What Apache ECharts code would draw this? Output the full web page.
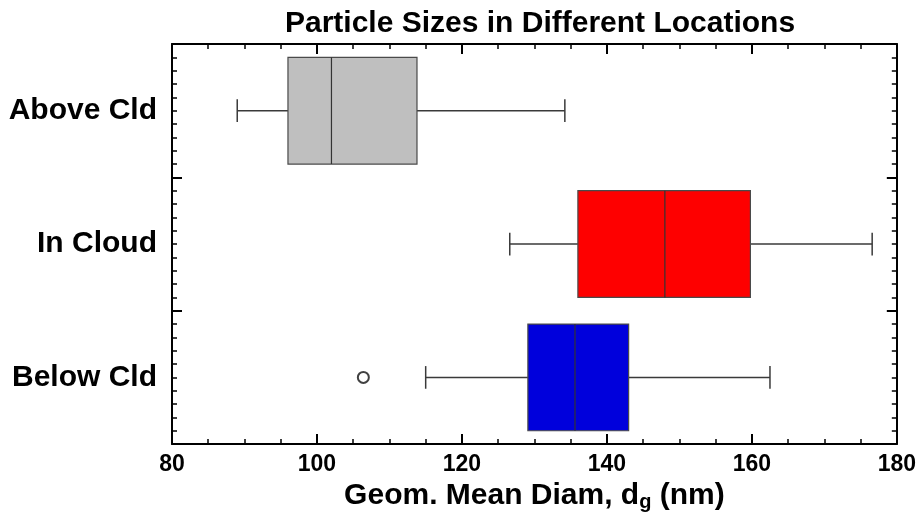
<!DOCTYPE html>
<html>
<head>
<meta charset="utf-8">
<title>Particle Sizes in Different Locations</title>
<script src="https://cdn.jsdelivr.net/npm/echarts@6/dist/echarts.min.js"></script>
<style>
  html, body { margin: 0; padding: 0; background: #fff; }
  #chart { width: 919px; height: 517px; }
</style>
</head>
<body>
<div id="chart"></div>
<script>
// locations, top to bottom
const categories = ['Above Cld', 'In Cloud', 'Below Cld']
// five-number summaries: [min, Q1, median, Q3, max]
const boxStats = [
  [89.0, 96.0, 102.0, 113.8, 134.2],
  [126.6, 136.0, 148.0, 159.8, 176.6],
  [115.0, 129.1, 135.6, 143.0, 162.5]
]
// outliers: [value, location]
const outliers = [[106.4, 'Below Cld']]
const xTicks = [80, 100, 120, 140, 160, 180]

const FILLS = ['#bfbfbf', '#fe0000', '#0000dc']
const FONT = '"Liberation Sans", Arial, Helvetica, sans-serif'
const INK = '#000'
const MAJOR = 10
const MINOR = 5

const chart = echarts.init(document.getElementById('chart'), null, { renderer: 'canvas' })

const boxData = boxStats.map((s, i) => [i].concat(s))

function renderBox(params, api) {
  const cat = api.value(0)
  const pMin = api.coord([api.value(1), cat])
  const pQ1 = api.coord([api.value(2), cat])
  const pMed = api.coord([api.value(3), cat])
  const pQ3 = api.coord([api.value(4), cat])
  const pMax = api.coord([api.value(5), cat])
  const band = api.size([0, 1])[1]
  const half = band * 0.4
  const cap = band * 0.085
  const y = pMed[1]
  const whisker = { stroke: '#3a3a3a', lineWidth: 1.5 }
  return {
    type: 'group',
    children: [
      { type: 'line', shape: { x1: pMin[0], y1: y, x2: pQ1[0], y2: y }, style: whisker },
      { type: 'line', shape: { x1: pQ3[0], y1: y, x2: pMax[0], y2: y }, style: whisker },
      { type: 'line', shape: { x1: pMin[0], y1: y - cap, x2: pMin[0], y2: y + cap }, style: whisker },
      { type: 'line', shape: { x1: pMax[0], y1: y - cap, x2: pMax[0], y2: y + cap }, style: whisker },
      {
        type: 'rect',
        shape: { x: pQ1[0], y: y - half, width: pQ3[0] - pQ1[0], height: half * 2 },
        style: { fill: FILLS[params.dataIndex], stroke: '#4a4a4a', lineWidth: 1.2 }
      },
      { type: 'line', shape: { x1: pMed[0], y1: y - half, x2: pMed[0], y2: y + half }, style: { stroke: '#333', lineWidth: 1.2 } }
    ]
  }
}

// x scale shared by every x axis
const xScale = {
  type: 'value',
  min: xTicks[0],
  max: xTicks[xTicks.length - 1],
  interval: xTicks[1] - xTicks[0]
}
// y scale for the tick-only axes: one unit per location band
const yScale = { type: 'value', min: 0, max: categories.length, interval: 1 }

const hidden = {
  axisLine: { show: false, onZero: false },
  axisLabel: { show: false },
  axisTick: { show: false },
  minorTick: { show: false },
  splitLine: { show: false },
  minorSplitLine: { show: false }
}

// tick rows: pulled into the plot with a negative offset, ticks pointing back out to the frame
function majorTicks(base, position) {
  return Object.assign({}, base, hidden, {
    position: position,
    offset: -MAJOR,
    axisTick: { show: true, length: MAJOR, lineStyle: { color: INK, width: 2 } }
  })
}
function minorTicks(base, position, split) {
  return Object.assign({}, base, hidden, {
    position: position,
    offset: -MINOR,
    minorTick: { show: true, splitNumber: split, length: MINOR, lineStyle: { color: INK, width: 1.5 } }
  })
}

const option = {
  backgroundColor: '#fff',
  animation: false,
  title: {
    text: 'Particle Sizes in Different Locations',
    left: 535,
    top: 4,
    textAlign: 'center',
    textStyle: { fontFamily: FONT, fontSize: 30, fontWeight: 'bold', color: INK }
  },
  grid: { left: 172, right: 22, top: 44, bottom: 70 },
  xAxis: [
    Object.assign({}, xScale, hidden, {
      position: 'bottom',
      axisLine: { show: true, onZero: false, lineStyle: { color: INK, width: 2 } },
      name: 'Geom. Mean Diam, d{sub|g} (nm)',
      nameLocation: 'middle',
      nameGap: 31,
      nameTextStyle: {
        fontFamily: FONT, fontSize: 30, fontWeight: 'bold', color: INK,
        rich: { sub: { fontFamily: FONT, fontSize: 20, fontWeight: 'bold', color: INK, verticalAlign: 'bottom', padding: [12, 0, 0, 0] } }
      },
      axisLabel: { show: true, margin: 9, fontFamily: FONT, fontSize: 23, fontWeight: 'bold', color: INK }
    }),
    Object.assign({}, xScale, hidden, {
      position: 'top',
      axisLine: { show: true, onZero: false, lineStyle: { color: INK, width: 2 } }
    }),
    majorTicks(xScale, 'bottom'),
    minorTicks(xScale, 'bottom', 4),
    majorTicks(xScale, 'top'),
    minorTicks(xScale, 'top', 4)
  ],
  yAxis: [
    {
      type: 'category',
      data: categories,
      inverse: true,
      position: 'left',
      axisLine: { show: true, onZero: false, lineStyle: { color: INK, width: 2 } },
      axisTick: { show: false },
      axisLabel: { margin: 15, fontFamily: FONT, fontSize: 30, fontWeight: 'bold', color: INK },
      splitLine: { show: false }
    },
    Object.assign({}, yScale, hidden, {
      position: 'right',
      axisLine: { show: true, onZero: false, lineStyle: { color: INK, width: 2 } }
    }),
    majorTicks(yScale, 'left'),
    minorTicks(yScale, 'left', 10),
    majorTicks(yScale, 'right'),
    minorTicks(yScale, 'right', 10)
  ],
  series: [
    {
      type: 'custom',
      name: 'boxes',
      xAxisIndex: 0,
      yAxisIndex: 0,
      renderItem: renderBox,
      encode: { x: [1, 2, 3, 4, 5], y: 0 },
      data: boxData,
      z: 3
    },
    {
      type: 'scatter',
      name: 'outliers',
      xAxisIndex: 0,
      yAxisIndex: 0,
      symbol: 'emptyCircle',
      symbolSize: 11,
      itemStyle: { color: '#111', borderColor: '#111', borderWidth: 1.3 },
      data: outliers,
      z: 4
    }
  ]
}

chart.setOption(option)
window.addEventListener('resize', () => chart.resize())
</script>
</body>
</html>
